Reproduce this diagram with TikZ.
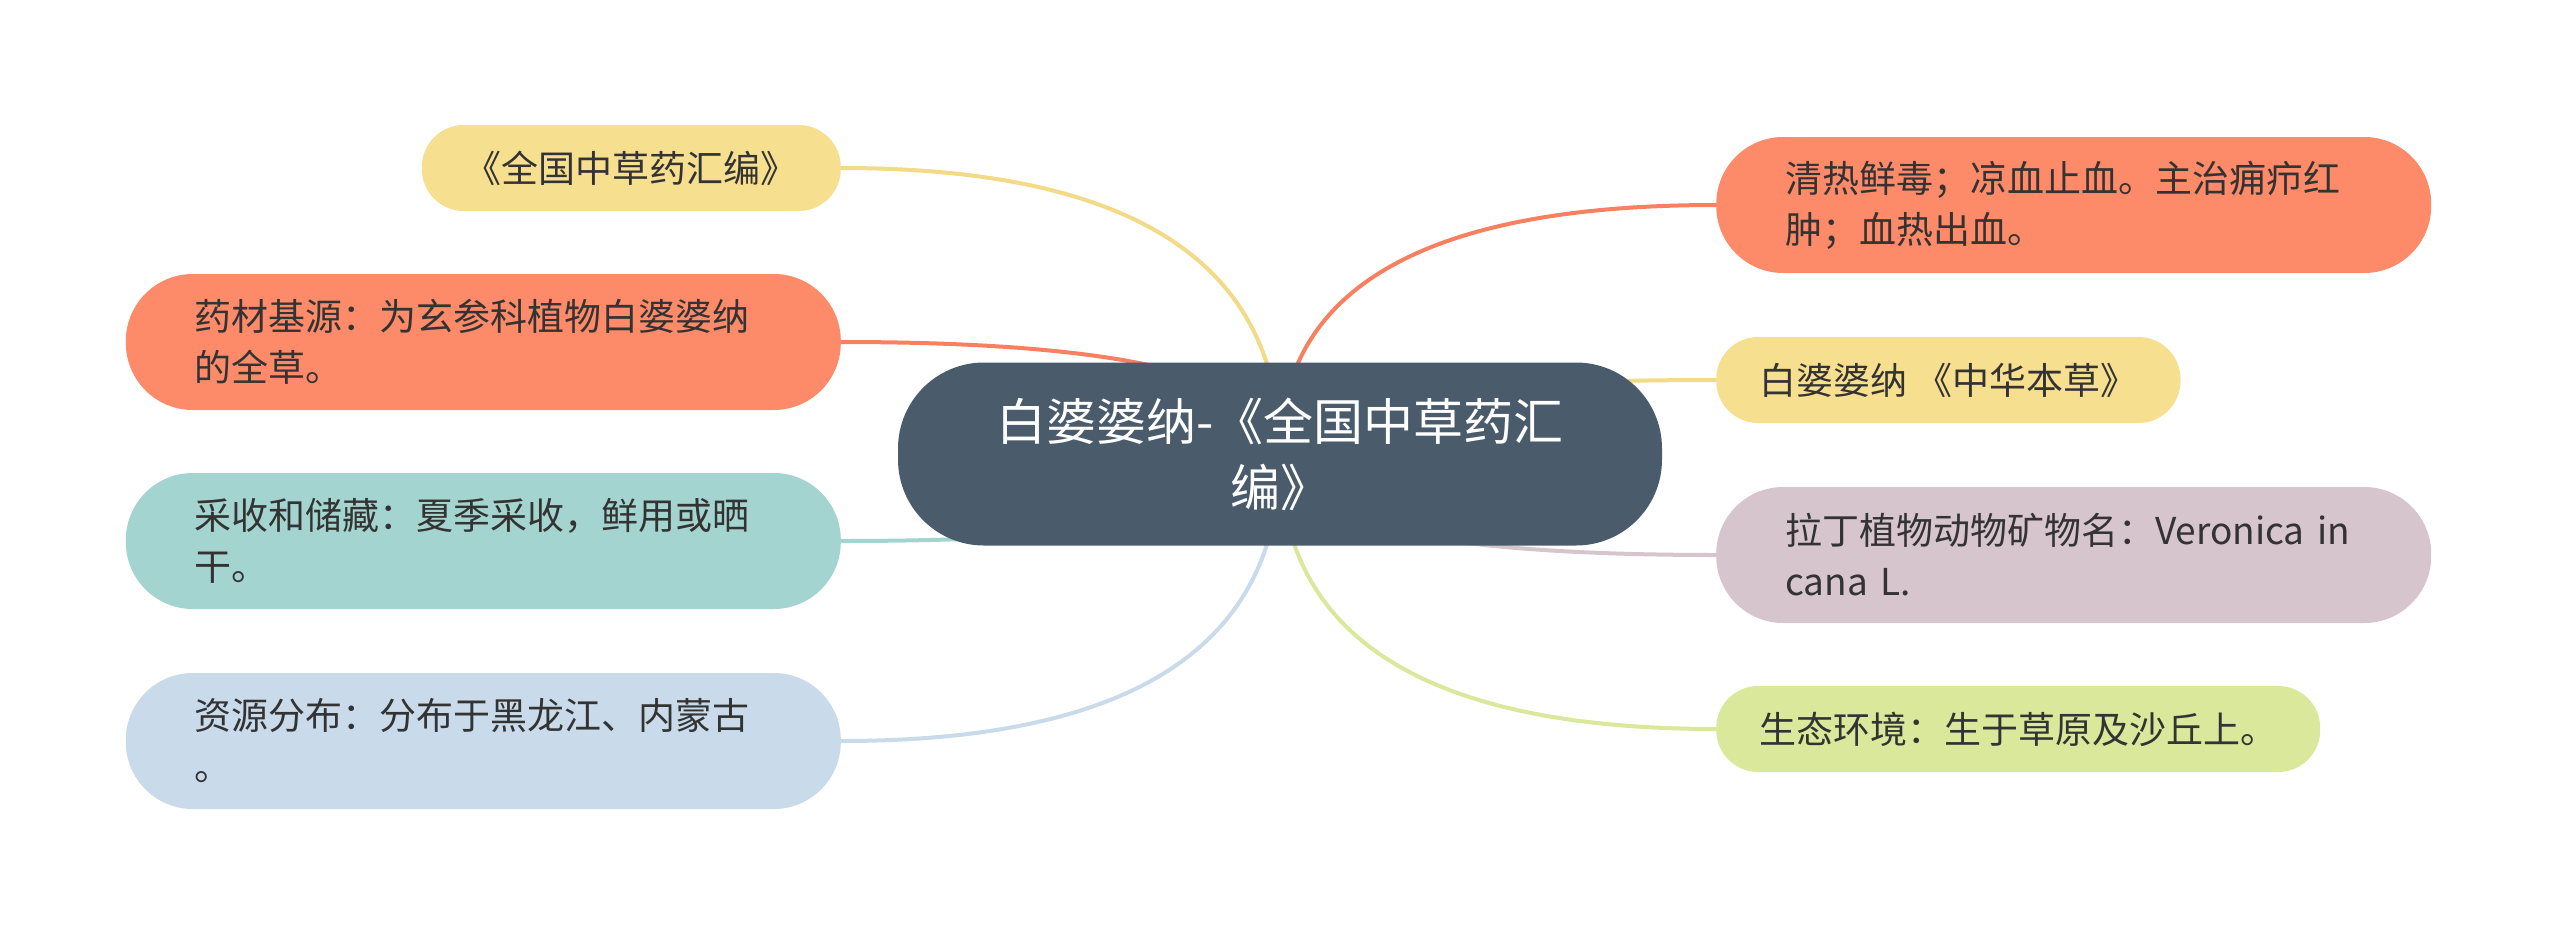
\documentclass[tikz,border=0pt]{standalone}
\usepackage{fontspec}
\setmainfont{Noto Sans CJK SC}
\usetikzlibrary{calc,backgrounds}
\definecolor{cOrange}{HTML}{FD8A69}
\definecolor{cYellow}{HTML}{F7DF90}
\definecolor{cTeal}{HTML}{A4D4CF}
\definecolor{cBlue}{HTML}{C9DBEA}
\definecolor{cMauve}{HTML}{D7C5CE}
\definecolor{cGreen}{HTML}{DAE89B}
\definecolor{cCenter}{HTML}{4A5C6B}
\definecolor{cText}{HTML}{333333}
\definecolor{lOrange}{HTML}{F6805F}
\definecolor{lYellow}{HTML}{F2DA86}
\newcommand\mmlink[3]{%
  \draw[conn,#1] (c.center) .. controls ($(c.center)!0.6667!(c.center |- #2.#3)$)
    and ($(#2.#3)!0.6667!(c.center |- #2.#3)$) .. (#2.#3);}
\begin{document}
\begin{tikzpicture}[x=1pt,y=-1pt,
  leaf/.style={fill=#1, rounded corners=42pt, inner xsep=43pt, inner ysep=0pt,
    minimum height=86pt, text=cText, align=left,
    font=\fontsize{37pt}{51pt}\selectfont},
  bigleaf/.style={fill=#1, rounded corners=67pt, text width=577pt, inner xsep=69pt,
    inner ysep=0pt, minimum height=136pt, text=cText, align=left,
    font=\fontsize{37pt}{51pt}\selectfont},
  root/.style={fill=cCenter, rounded corners=86pt, minimum width=764pt,
    minimum height=183pt, text=white, align=center, inner sep=0pt,
    font=\fontsize{50pt}{66pt}\selectfont},
  conn/.style={line width=4pt}]
\useasboundingbox (0,0) rectangle (2560,935);

\node[root] (c) at (1280,454) {白婆婆纳-《全国中草药汇\\编》};

\node[leaf=cYellow, anchor=east] (L1) at (841,168) {《全国中草药汇编》};
\node[bigleaf=cOrange, anchor=east] (L2) at (841,342) {药材基源：为玄参科植物白婆婆纳\\的全草。};
\node[bigleaf=cTeal, anchor=east] (L3) at (841,541) {采收和储藏：夏季采收，鲜用或晒\\干。};
\node[bigleaf=cBlue, anchor=east] (L4) at (841,741) {资源分布：分布于黑龙江、内蒙古\\。};

\node[bigleaf=cOrange, anchor=west] (R1) at (1716,205) {清热鲜毒；凉血止血。主治痈疖红\\肿；血热出血。};
\node[leaf=cYellow, anchor=west] (R2) at (1716,380) {白婆婆纳 《中华本草》};
\node[bigleaf=cMauve, anchor=west] (R3) at (1716,555) {拉丁植物动物矿物名：Veronica in\\cana L.};
\node[leaf=cGreen, anchor=west] (R4) at (1716,729) {生态环境：生于草原及沙丘上。};

\begin{scope}[on background layer]
\fill[white] (0,0) rectangle (2560,935);
\mmlink{lYellow}{L1}{east}
\mmlink{lOrange}{L2}{east}
\mmlink{cTeal}{L3}{east}
\mmlink{cBlue}{L4}{east}
\mmlink{lOrange}{R1}{west}
\mmlink{lYellow}{R2}{west}
\mmlink{cMauve}{R3}{west}
\mmlink{cGreen}{R4}{west}
\end{scope}
\end{tikzpicture}
\end{document}
